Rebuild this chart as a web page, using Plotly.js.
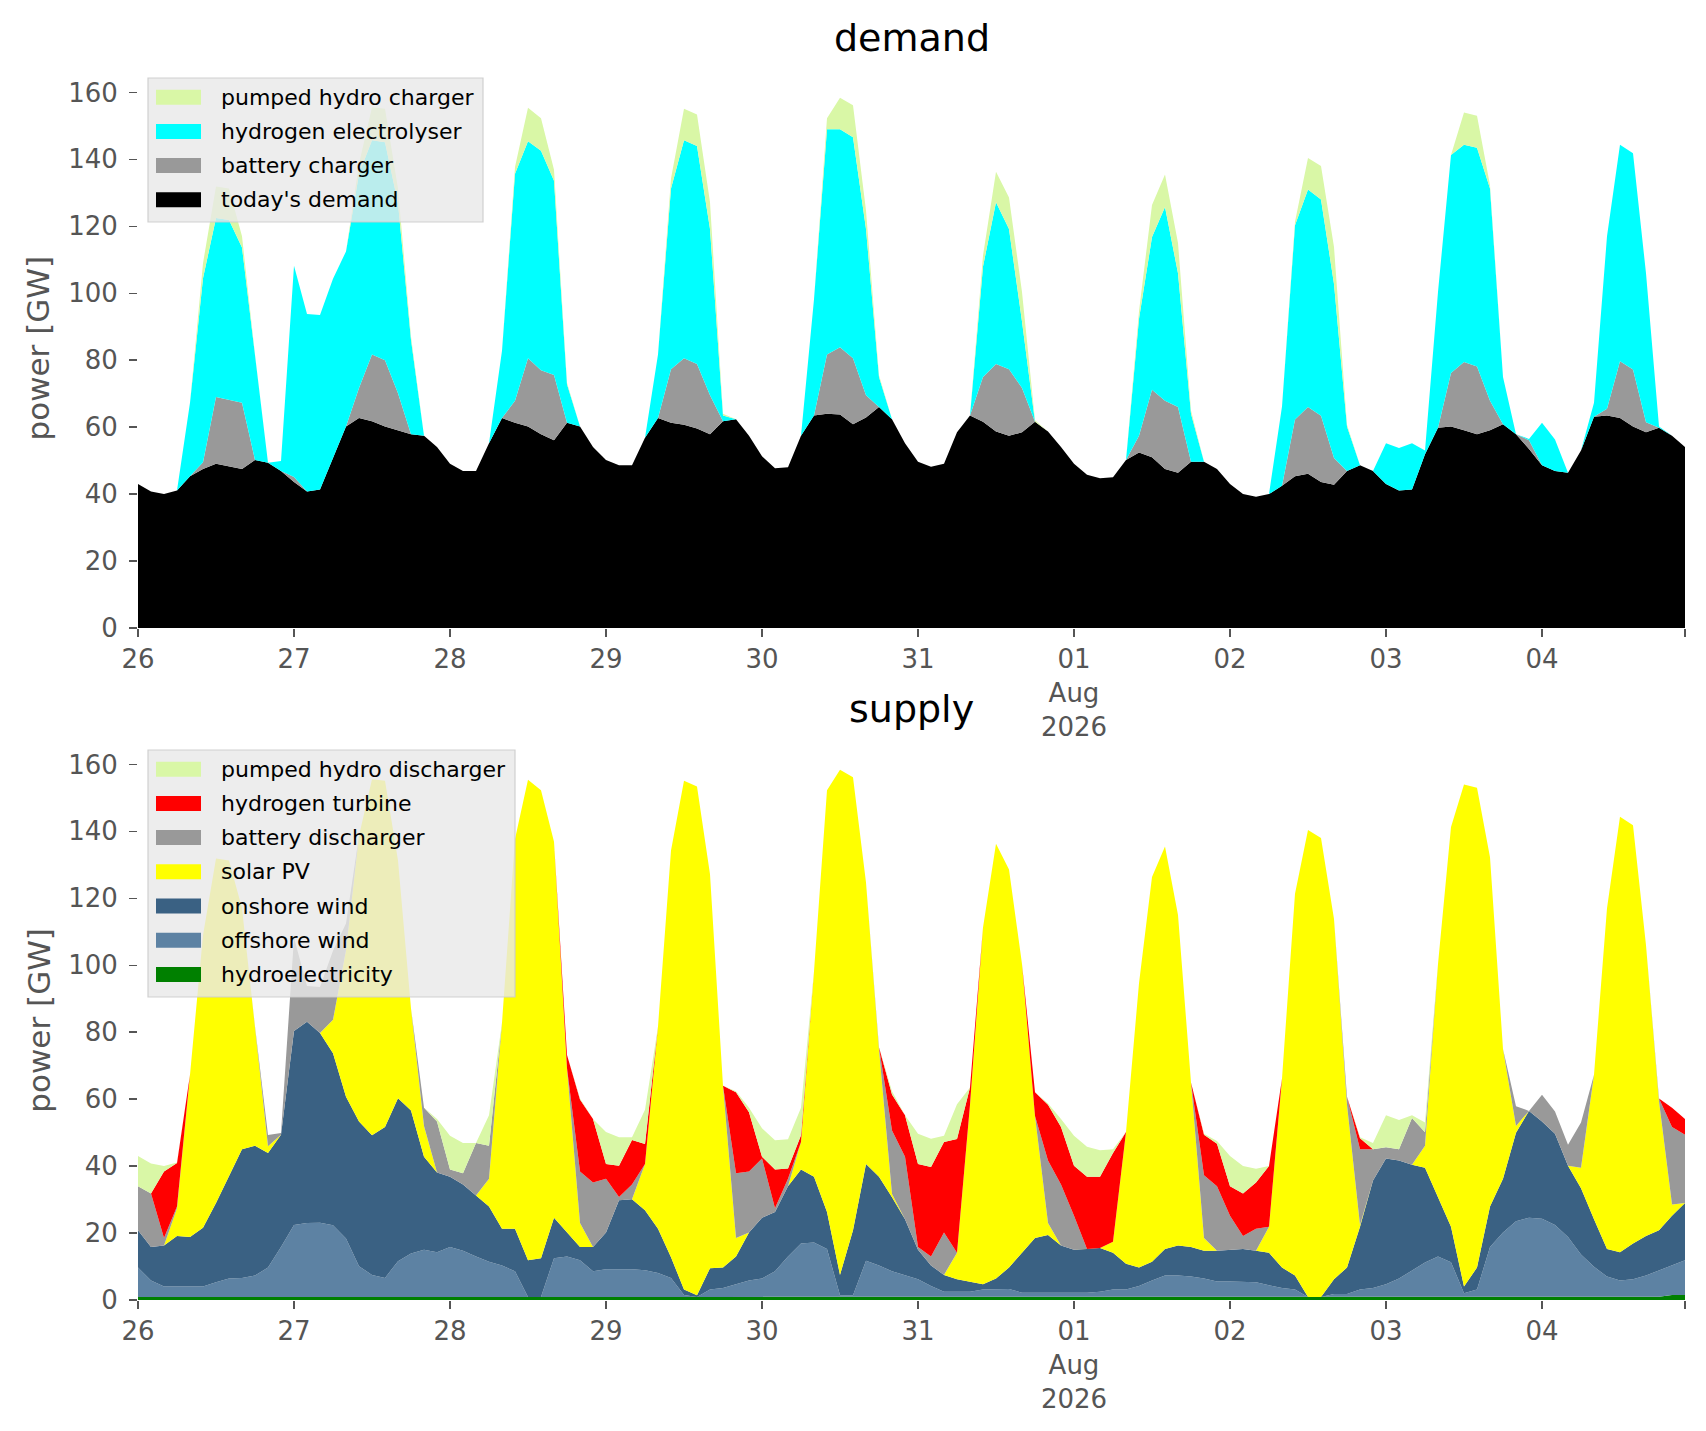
<!DOCTYPE html>
<html>
<head>
<meta charset="utf-8">
<script src="https://cdn.plot.ly/plotly-3.0.1.min.js"></script>
<style>
  html, body { margin: 0; padding: 0; background: #fff; }
  #chart { width: 1706px; height: 1431px; }
</style>
</head>
<body>
<div id="chart"></div>
<script>
// time axis: one sample every two hours, 26 Jul - 04 Aug 2026
const days = ['2026-07-26', '2026-07-27', '2026-07-28', '2026-07-29', '2026-07-30',
              '2026-07-31', '2026-08-01', '2026-08-02', '2026-08-03', '2026-08-04'];
const hours = [0, 2, 4, 6, 8, 10, 12, 14, 16, 18, 20, 22];
const dayLabels = ['26', '27', '28', '29', '30', '31', '01<br>Aug<br>2026', '02', '03', '04'];

// ---- demand side [GW], 12 values per day ----
const todaysDemand = [
  43.0, 40.8, 40.0, 41.1, 45.3, 47.5, 49.1, 48.3, 47.5, 50.2, 49.4, 46.9,
  43.6, 40.8, 41.4, 50.8, 60.2, 62.7, 61.8, 60.2, 59.1, 57.9, 57.4, 54.1,
  49.1, 46.9, 46.9, 55.2, 62.7, 61.3, 60.2, 57.9, 56.1, 61.3, 60.2, 54.1,
  50.2, 48.6, 48.6, 56.8, 62.7, 61.3, 60.7, 59.6, 57.9, 61.8, 62.4, 57.4,
  51.3, 47.7, 48.0, 57.4, 63.5, 64.0, 63.8, 60.9, 62.9, 66.0, 62.4, 55.2,
  49.7, 48.2, 49.1, 58.5, 63.5, 61.6, 58.7, 57.4, 58.5, 61.6, 58.7, 54.1,
  49.1, 45.8, 44.7, 45.0, 50.2, 52.4, 51.0, 47.5, 46.4, 49.7, 49.7, 47.5,
  43.0, 40.0, 39.2, 40.0, 42.5, 45.3, 46.1, 43.6, 42.8, 46.9, 48.6, 46.9,
  43.0, 41.1, 41.4, 51.9, 59.8, 60.2, 59.1, 57.9, 59.1, 60.9, 57.9, 53.5,
  48.6, 46.9, 46.4, 53.0, 63.1, 63.5, 62.7, 60.2, 58.5, 59.8, 57.4, 54.1
];
const batteryCharger = [
  0, 0, 0, 0, 0, 2.0, 19.9, 19.9, 19.8, 0, 0, 0,
  1.5, 0, 0, 0, 0, 9.0, 19.9, 19.8, 11.0, 0, 0, 0,
  0, 0, 0, 0, 0, 6.6, 20.4, 19.1, 19.5, 0, 0, 0,
  0, 0, 0, 0, 0, 16.0, 19.9, 19.3, 11.6, 0, 0, 0,
  0, 0, 0, 0, 0, 17.7, 20.1, 19.7, 6.6, 0, 0, 0,
  0, 0, 0, 0, 0, 13.4, 20.2, 19.9, 13.2, 0, 0, 0,
  0, 0, 0, 0, 0, 5.0, 20.2, 20.4, 19.6, 0, 0, 0,
  0, 0, 0, 0, 0, 17.0, 19.9, 19.8, 8.0, 0, 0, 0,
  0, 0, 0, 0, 0, 16.0, 20.4, 20.2, 8.8, 0, 0, 2.6,
  0, 0, 0, 0, 0, 2.0, 17.0, 17.0, 3.0, 0, 0, 0
];
const electrolyser = [
  0, 0, 0, 0, 22.0, 55.0, 53.5, 53.7, 46.4, 30.4, 0, 3.0,
  63.1, 53.0, 52.1, 53.5, 52.3, 64.0, 64.0, 65.1, 56.8, 28.2, 0, 0,
  0, 0, 0, 0, 20.1, 67.8, 64.8, 65.6, 58.0, 11.5, 0, 0,
  0, 0, 0, 0, 19.0, 54.0, 65.1, 65.1, 49.7, 1.7, 0, 0,
  0, 0, 0, 0, 34.7, 67.3, 65.1, 66.0, 49.7, 9.0, 0, 0,
  0, 0, 0, 0, 0, 33.0, 48.3, 41.9, 19.9, 0, 0, 0,
  0, 0, 0, 0, 0, 35.0, 45.6, 57.9, 40.0, 14.3, 0, 0,
  0, 0, 0, 0, 23.7, 58.0, 65.0, 64.6, 52.0, 13.3, 0, 0,
  12.2, 12.7, 13.8, 1.1, 40.6, 65.1, 64.9, 65.4, 63.4, 14.1, 0, 0.4,
  12.7, 9.4, 0, 0, 4.2, 51.5, 64.7, 64.6, 44.5, 0.4, 0, 0
];
const pumpedCharger = [
  0, 0, 0, 0, 0, 4.5, 9.4, 9.4, 3.3, 1.1, 0, 0,
  0, 0, 0, 0, 0, 3.0, 9.9, 10.0, 4.4, 1.0, 0, 0,
  0, 0, 0, 0, 0, 2.0, 10.0, 9.7, 3.3, 0.5, 0, 0,
  0, 0, 0, 0, 0, 3.0, 9.4, 9.4, 8.0, 0.5, 0, 0,
  0, 0, 0, 0, 0, 3.3, 9.4, 9.6, 5.5, 0.5, 0, 0,
  0, 0, 0, 0, 0, 3.3, 9.1, 9.4, 8.8, 0.5, 0, 0,
  0, 0, 0, 0, 0, 2.2, 9.6, 9.7, 9.0, 1.0, 0, 0,
  0, 0, 0, 0, 0, 1.1, 9.4, 10.0, 11.0, 0.5, 0, 0,
  0, 0, 0, 0, 0, 0, 9.6, 9.5, 1.0, 0, 0, 0,
  0, 0, 0, 0, 0, 0, 0, 0, 0, 0, 0, 0
];

// ---- supply side [GW] ----
const hydroelectricity = [
  0.9, 0.9, 0.9, 0.9, 0.9, 0.9, 0.9, 0.9, 0.9, 0.9, 0.9, 0.9,
  0.9, 0.9, 0.9, 0.9, 0.9, 0.9, 0.9, 0.9, 0.9, 0.9, 0.9, 0.9,
  0.9, 0.9, 0.9, 0.9, 0.9, 0.9, 0.9, 0.9, 0.9, 0.9, 0.9, 0.9,
  0.9, 0.9, 0.9, 0.9, 0.9, 0.9, 0.9, 0.9, 0.9, 0.9, 0.9, 0.9,
  0.9, 0.9, 0.9, 0.9, 0.9, 0.9, 0.9, 0.9, 0.9, 0.9, 0.9, 0.9,
  0.9, 0.9, 0.9, 0.9, 0.9, 0.9, 0.9, 0.9, 0.9, 0.9, 0.9, 0.9,
  0.9, 0.9, 0.9, 0.9, 0.9, 0.9, 0.9, 0.9, 0.9, 0.9, 0.9, 0.9,
  0.9, 0.9, 0.9, 0.9, 0.9, 0.9, 0.9, 0.9, 0.9, 0.9, 0.9, 0.9,
  0.9, 0.9, 0.9, 0.9, 0.9, 0.9, 0.9, 0.9, 0.9, 0.9, 0.9, 0.9,
  0.9, 0.9, 0.9, 0.9, 0.9, 0.9, 0.9, 0.9, 0.9, 1.0, 1.5, 1.5
];
const offshoreWind = [
  8.8, 4.9, 3.1, 3.1, 3.1, 3.1, 4.4, 5.5, 5.7, 6.4, 8.8, 14.9,
  21.5, 22.1, 22.2, 21.4, 17.5, 9.2, 6.6, 5.7, 10.7, 13.0, 14.1, 13.4,
  14.9, 13.8, 12.1, 10.5, 9.4, 7.7, 0, 0, 11.6, 12.1, 11.0, 7.7,
  8.3, 8.3, 8.3, 8.0, 7.2, 5.7, 0.6, 0, 2.2, 2.7, 3.8, 4.9,
  5.5, 7.7, 12.1, 16.0, 16.3, 14.3, 0.5, 0.5, 10.8, 9.4, 7.7, 6.6,
  5.3, 3.3, 1.6, 1.6, 1.6, 2.2, 2.2, 2.4, 1.3, 1.3, 1.3, 1.3,
  1.1, 1.3, 1.6, 2.2, 2.2, 3.3, 4.9, 6.4, 6.4, 6.1, 5.5, 4.6,
  4.6, 4.6, 4.4, 3.5, 2.7, 2.2, 0, 0, 0.9, 0.9, 2.2, 2.7,
  3.8, 5.5, 7.8, 10.3, 12.1, 10.4, 1.1, 2.2, 14.9, 19.3, 22.6, 23.7,
  23.4, 21.5, 17.9, 12.7, 9.0, 6.1, 4.9, 5.3, 6.4, 7.8, 8.8, 10.4
];
const onshoreWind = [
  11.1, 10.0, 12.3, 15.1, 14.8, 17.6, 23.7, 30.4, 38.4, 38.8, 34.2, 33.6,
  58.0, 60.1, 56.7, 51.4, 42.3, 43.2, 41.7, 45.1, 48.7, 42.7, 27.8, 23.8,
  21.0, 19.8, 18.2, 16.5, 11.0, 12.7, 11.0, 11.6, 12.1, 7.2, 3.9, 7.2,
  11.0, 20.6, 20.9, 17.9, 13.2, 6.2, 1.6, 0.5, 6.4, 6.1, 8.3, 14.4,
  18.2, 17.7, 21.0, 22.1, 19.6, 11.1, 6.1, 19.4, 28.9, 26.5, 22.1, 16.6,
  8.8, 6.1, 5.0, 3.7, 3.0, 1.6, 3.3, 6.4, 11.9, 16.3, 17.2, 14.1,
  13.0, 13.0, 13.0, 11.0, 7.7, 5.5, 5.6, 7.9, 9.0, 8.8, 8.3, 9.2,
  9.5, 9.7, 9.4, 9.7, 6.1, 4.2, 0, 0, 4.4, 7.9, 18.8, 32.1,
  37.6, 35.3, 31.7, 28.3, 17.7, 10.6, 2.0, 6.6, 12.1, 16.0, 26.5, 31.9,
  29.0, 27.3, 21.3, 19.8, 14.2, 8.2, 8.5, 10.7, 11.8, 12.0, 14.9, 17.1
];
const solarPV = [
  0, 0, 0, 8.3, 48.5, 87.4, 102.9, 94.5, 72.0, 35.6, 2.0, 0,
  0, 0, 0, 10.0, 43.8, 85.4, 106.4, 103.4, 71.0, 30.5, 9.2, 0,
  0, 0, 0, 8.3, 61.5, 116.4, 143.5, 139.8, 112.3, 49.0, 7.2, 0,
  0, 0, 0, 13.8, 60.4, 121.5, 152.0, 152.0, 117.7, 54.3, 5.5, 0,
  0, 0, 0, 8.2, 61.4, 126.0, 150.9, 135.4, 84.1, 38.0, 1.0, 0,
  0, 0, 0, 7.9, 52.8, 106.6, 129.9, 118.9, 86.3, 36.5, 3.6, 0,
  0, 0, 0, 3.3, 39.4, 84.9, 115.0, 120.3, 98.7, 49.2, 3.8, 0,
  0, 0, 0, 7.8, 56.5, 114.1, 139.5, 137.1, 107.6, 48.6, 0.5, 0,
  0, 0, 0, 6.6, 69.7, 119.4, 150.0, 143.3, 104.4, 38.8, 2.0, 0,
  0, 0, 0, 6.1, 43.2, 101.8, 130.1, 124.9, 86.9, 38.6, 3.3, 0
];
const batteryDischarger = [
  13.2, 16.0, 2.2, 0.5, 0, 0, 0, 0, 0, 0, 3.4, 0.5,
  27.8, 10.7, 13.7, 20.6, 8.0, 0, 0, 0, 0, 0, 5.4, 15.2,
  2.2, 3.4, 15.7, 9.9, 0, 0, 0, 0, 0, 0, 15.4, 19.3,
  16.0, 1.0, 4.4, 0, 0, 0, 0, 0, 0, 0, 19.4, 18.2,
  17.7, 1.1, 2.2, 0, 0, 0, 0, 0, 0, 0.7, 18.9, 18.7,
  0.8, 2.7, 12.7, 0, 0, 0, 0, 0, 0, 0, 18.7, 18.2,
  10.2, 0, 0, 0, 0, 0, 0, 0, 0, 0, 18.8, 19.3,
  10.2, 3.9, 6.6, 0, 0, 0, 0, 0, 0, 2.4, 22.6, 9.3,
  3.3, 3.3, 14.0, 4.0, 0, 0, 0, 0, 0, 0, 5.9, 0,
  8.0, 6.6, 6.3, 13.5, 0, 0, 0, 0, 0, 0.8, 23.2, 20.4
];
const hydrogenTurbine = [
  0, 0, 19.9, 13.0, 0, 0, 0, 0, 0, 0, 0, 0,
  0, 0, 0, 0, 0, 0, 0, 0, 0, 0, 0, 0,
  0, 0, 0, 0, 0, 0, 0, 0, 0, 4.0, 21.5, 19.0,
  4.4, 9.3, 13.3, 6.0, 0, 0, 0, 0, 0, 0, 24.2, 17.7,
  0.5, 11.6, 3.1, 2.0, 0, 0, 0, 0, 0, 0, 10.8, 12.4,
  24.8, 26.7, 27.0, 34.0, 5.2, 0, 0, 0, 0, 7.1, 16.6, 17.2,
  14.9, 21.6, 21.3, 26.5, 0, 0, 0, 0, 0, 0, 12.1, 12.7,
  8.8, 12.7, 13.8, 18.1, 0, 0, 0, 0, 0, 0, 3.3, 0,
  0, 0, 0, 0, 0, 0, 0, 0, 0, 0, 0, 0,
  0, 0, 0, 0, 0, 0, 0, 0, 0, 0, 5.7, 4.7
];
const pumpedDischarger = [
  9.0, 9.0, 1.6, 0.2, 0, 0, 0, 0, 0, 0, 0, 0,
  0, 0, 0, 0, 0, 0, 0, 0, 0, 0, 0, 0.8,
  10.1, 9.0, 0, 9.1, 0, 0, 0, 0, 0, 0, 0.3, 0,
  9.6, 8.5, 0.8, 10.2, 0, 0, 0, 0, 0, 0, 0.3, 1.3,
  8.5, 8.7, 8.7, 8.2, 0, 0, 0, 0, 0, 0, 1.0, 0,
  9.1, 8.5, 1.9, 10.4, 0, 0, 0, 0, 0, 0, 0.4, 2.4,
  9.0, 9.0, 7.9, 1.1, 0, 0, 0, 0, 0, 0, 0.3, 0.8,
  9.0, 8.2, 4.1, 0, 0, 0, 0, 0, 0, 0, 0.3, 1.9,
  9.6, 8.8, 0.8, 2.9, 0, 0, 0, 0, 0, 0, 0, 0,
  0, 0, 0, 0, 0, 0, 0, 0, 0, 0, 0, 0
];

const colors = {
    demand: '#000000', battery: '#999999', electrolyser: '#00ffff', pumped: 'rgb(217,247,166)',
    hydro: '#008000', offshore: 'rgb(93,130,163)', onshore: 'rgb(58,97,131)',
    solar: '#ffff00', turbine: '#ff0000'
};

const times = [];
days.forEach(d => hours.forEach(h => times.push(d + ' ' + String(h).padStart(2, '0') + ':00')));

const FONT = 'DejaVu Sans, Verdana, sans-serif';

function area(name, y, color, xa, ya, group) {
    return {
        x: times, y: y, name: name, type: 'scatter', mode: 'lines',
        line: { width: 0 }, fillcolor: color, stackgroup: group,
        xaxis: xa, yaxis: ya, hoverinfo: 'skip', showlegend: false
    };
}

// stacked bottom to top
const demandStack = [
    ["today's demand", todaysDemand, colors.demand],
    ['battery charger', batteryCharger, colors.battery],
    ['hydrogen electrolyser', electrolyser, colors.electrolyser],
    ['pumped hydro charger', pumpedCharger, colors.pumped]
];
const supplyStack = [
    ['hydroelectricity', hydroelectricity, colors.hydro],
    ['offshore wind', offshoreWind, colors.offshore],
    ['onshore wind', onshoreWind, colors.onshore],
    ['solar PV', solarPV, colors.solar],
    ['battery discharger', batteryDischarger, colors.battery],
    ['hydrogen turbine', hydrogenTurbine, colors.turbine],
    ['pumped hydro discharger', pumpedDischarger, colors.pumped]
];

const traces = demandStack.map(s => area(s[0], s[1], s[2], 'x', 'y', 'dem'))
    .concat(supplyStack.map(s => area(s[0], s[1], s[2], 'x2', 'y2', 'sup')));

const tickVals = days.map(d => d + ' 00:00').concat([times[times.length - 1]]);
const tickText = dayLabels.concat(['']);

function xAxis(anchor) {
    return {
        anchor: anchor, domain: [0, 1], type: 'date',
        range: [times[0], times[times.length - 1]],
        tickmode: 'array', tickvals: tickVals, ticktext: tickText,
        ticks: 'outside', ticklen: 8, tickwidth: 1.5, tickcolor: '#555555',
        tickfont: { family: FONT, size: 26, color: '#555555' },
        showgrid: false, zeroline: false, showline: false, fixedrange: true
    };
}
function yAxis(anchor, domain) {
    return {
        anchor: anchor, domain: domain, range: [0, 167],
        tickmode: 'array', tickvals: [0, 20, 40, 60, 80, 100, 120, 140, 160],
        ticks: 'outside', ticklen: 8, tickwidth: 1.5, tickcolor: '#555555',
        ticklabelstandoff: 6,
        tickfont: { family: FONT, size: 26, color: '#555555' },
        showgrid: false, zeroline: false, showline: false, fixedrange: true
    };
}

// matplotlib-style legend boxes (patch + label), placed in pixels of the figure
const PLOT_L = 138, PLOT_W = 1547, PLOT_B = 1300, PLOT_H = 1231;
const px = v => (v - PLOT_L) / PLOT_W;
const py = v => (PLOT_B - v) / PLOT_H;

const shapes = [];
const annotations = [];
function addLegend(stack, left, top, right, bottom) {
    shapes.push({
        type: 'rect', xref: 'paper', yref: 'paper', layer: 'above',
        x0: px(left), x1: px(right), y0: py(bottom), y1: py(top),
        fillcolor: 'rgba(232,232,232,0.8)', line: { color: 'rgba(204,204,204,0.9)', width: 1.2 }
    });
    const items = stack.slice().reverse();
    items.forEach((s, i) => {
        const cy = top + 19.2 + i * 34.2;
        shapes.push({
            type: 'rect', xref: 'paper', yref: 'paper', layer: 'above',
            x0: px(156), x1: px(201), y0: py(cy + 7.5), y1: py(cy - 7.5),
            fillcolor: s[2], line: { width: 0 }
        });
        annotations.push({
            text: s[0], xref: 'paper', yref: 'paper', x: px(219), y: py(cy),
            xanchor: 'left', yanchor: 'middle', showarrow: false,
            font: { family: FONT, size: 22, color: '#000000' }
        });
    });
}
addLegend(demandStack, 148, 78, 483, 222);
addLegend(supplyStack, 148, 750, 515, 997);

annotations.push(
    { text: 'demand', xref: 'paper', yref: 'paper', x: 0.5, y: 1.025, xanchor: 'center', yanchor: 'middle',
      showarrow: false, font: { family: FONT, size: 38, color: '#000000' } },
    { text: 'supply', xref: 'paper', yref: 'paper', x: 0.5, y: 0.480, xanchor: 'center', yanchor: 'middle',
      showarrow: false, font: { family: FONT, size: 38, color: '#000000' } },
    { text: 'power [GW]', xref: 'paper', yref: 'paper', x: -0.0646, y: 0.7730, xanchor: 'center', yanchor: 'middle',
      textangle: -90, showarrow: false, font: { family: FONT, size: 31, color: '#555555' } },
    { text: 'power [GW]', xref: 'paper', yref: 'paper', x: -0.0646, y: 0.2270, xanchor: 'center', yanchor: 'middle',
      textangle: -90, showarrow: false, font: { family: FONT, size: 31, color: '#555555' } }
);

const layout = {
    width: 1706, height: 1431,
    margin: { l: 138, r: 21, t: 69, b: 131, pad: 0 },
    paper_bgcolor: '#ffffff', plot_bgcolor: '#ffffff',
    showlegend: false,
    xaxis: xAxis('y'),
    yaxis: yAxis('x', [0.5459, 1]),
    xaxis2: xAxis('y2'),
    yaxis2: yAxis('x2', [0, 0.4541]),
    shapes: shapes,
    annotations: annotations
};

Plotly.newPlot('chart', traces, layout, { displayModeBar: false, staticPlot: true });
</script>
</body>
</html>
